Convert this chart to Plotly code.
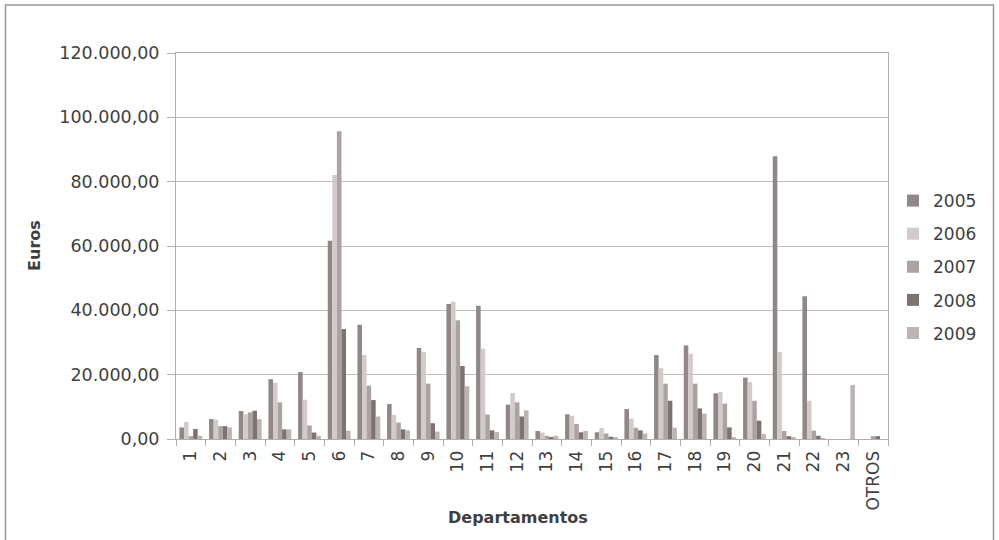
import plotly.graph_objects as go

categories = [str(i) for i in range(1, 24)] + ["OTROS"]
years = ["2005", "2006", "2007", "2008", "2009"]

v2005 = [3600, 6200, 8700, 18600, 20800, 61600, 35500, 10900, 28300, 42000, 41400, 10700,
         2500, 7700, 2100, 9300, 26100, 29100, 14200, 19100, 87900, 44400, 0, 0]
v2006 = [5300, 6000, 7700, 17500, 12200, 82100, 26100, 7500, 27100, 42700, 28100, 14300,
         2000, 7200, 3400, 6300, 22000, 26500, 14600, 17700, 27100, 11900, 0, 0]
v2007 = [900, 4000, 8300, 11400, 4200, 95700, 16600, 5100, 17200, 36900, 7600, 11400,
         1000, 4700, 1700, 3500, 17200, 17200, 11000, 11900, 2500, 2600, 0, 900]
v2008 = [3100, 4000, 8800, 3000, 2000, 34200, 12100, 3000, 4900, 22700, 2700, 7000,
         400, 2100, 700, 2700, 11900, 9500, 3600, 5700, 900, 1000, 0, 900]
v2009 = [1000, 3600, 6200, 3000, 1000, 2600, 7000, 2700, 2300, 16400, 2200, 8900,
         1000, 2500, 400, 1700, 3500, 7900, 600, 1600, 400, 300, 16800, 0]

series = [v2005, v2006, v2007, v2008, v2009]
colors = ["#8f8886", "#d2cbc9", "#aba3a1", "#7d7472", "#bcb5b3"]

FONT = "DejaVu Sans"
TXT = "#3f3f3f"

fig = go.Figure()
for name, vals, col in zip(years, series, colors):
    fig.add_trace(go.Bar(
        x=categories, y=vals, name=name, marker_color=col,
        marker_line_width=0, legendgroup=name,
    ))

# plot area in pixels: x 176..888, y 52.7..439.5
L, R, T, B = 176, 888, 52.7, 439.5
W, H = R - L, B - T

def px(x):
    return (x - L) / W

def py(y):
    return (B - y) / H

fig.update_layout(
    width=999, height=540,
    margin=dict(l=L, r=999 - R, t=T, b=540 - B, autoexpand=False),
    paper_bgcolor="white", plot_bgcolor="white",
    separators=",.",
    barmode="group", bargap=0.23, bargroupgap=0,
    font=dict(family=FONT, size=17, color=TXT),
    showlegend=True,
    legend=dict(x=px(893), y=py(183), xanchor="left", yanchor="top",
                font=dict(family=FONT, size=17, color=TXT),
                tracegroupgap=8, bgcolor="rgba(0,0,0,0)"),
    xaxis=dict(
        type="category", tickangle=-90, tickson="boundaries", ticks="outside",
        ticklen=6, tickcolor="#b5adab", showline=True, linecolor="#b5adab",
        linewidth=1, mirror=True, showgrid=False, ticklabelstandoff=4,
        tickfont=dict(family=FONT, size=17, color=TXT),
    ),
    yaxis=dict(
        range=[0, 120000], dtick=20000, tickformat=",.2f", ticks="outside",
        ticklen=8, tickcolor="#b5adab", showline=True, linecolor="#b5adab",
        linewidth=1, mirror=True, showgrid=True, gridcolor="#c4bdbb",
        gridwidth=1, zeroline=False, ticklabelstandoff=4,
        tickfont=dict(family=FONT, size=17.5, color=TXT),
    ),
    annotations=[
        dict(text="<b>Departamentos</b>", xref="paper", yref="paper",
             x=px(518), y=py(518), xanchor="center", yanchor="middle",
             showarrow=False, font=dict(family=FONT, size=16, color=TXT)),
        dict(text="<b>Euros</b>", xref="paper", yref="paper",
             x=px(35), y=py(246), xanchor="center", yanchor="middle",
             showarrow=False, textangle=-90,
             font=dict(family=FONT, size=16, color=TXT)),
    ],
    shapes=[
        dict(type="path", xref="paper", yref="paper",
             path=f"M {px(5.5)} {py(560)} L {px(5.5)} {py(4.5)} L {px(993.5)} {py(4.5)} L {px(993.5)} {py(560)}",
             line=dict(color="#9d9593", width=1.5)),
    ],
)

fig.write_html("out.html", config={"displayModeBar": False},
               post_script="document.body.style.margin='0';document.body.style.overflow='hidden';")
